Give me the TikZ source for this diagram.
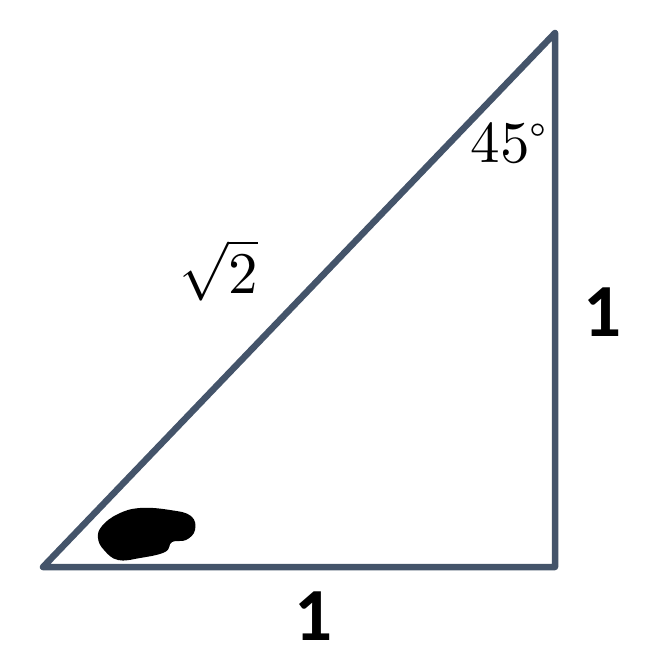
\documentclass[tikz,border=0pt]{standalone}
\usepackage{fontspec}
\usepackage{unicode-math}
\setmathfont{Latin Modern Math}
\newfontfamily\sidefont{Carlito}
\definecolor{edgeGray}{HTML}{44546A}

\def \vertAX{43}
\def \vertAY{567}
\def \vertBX{555}
\def \vertBY{567}
\def \vertCX{555}
\def \vertCY{33}

\begin{document}
\begin{tikzpicture}[x=1pt, y=-1pt,
    sideLabel/.style = {font=\sidefont\fontsize{75}{80}\selectfont\bfseries},
    mathLabel/.style = {font=\fontsize{59}{62}\selectfont}]
\useasboundingbox (0,0) rectangle (647,658);

% ---- Vertices
\coordinate (cornerA) at (\vertAX, \vertAY);
\coordinate (cornerB) at (\vertBX, \vertBY);
\coordinate (cornerC) at (\vertCX, \vertCY);

% ---- Triangle
\draw [edgeGray, line width = 6.5, line join = round, line cap = round] (cornerA) -- (cornerB) -- (cornerC) -- cycle;

% ---- Labels
\node [mathLabel] (angleLabel) at (509, 143) {$45^\circ$};
\node [mathLabel] (hypLabel) at (219, 270) {$\sqrt{2}$};
\node [sideLabel] (rightLabel) at (602, 312) {1};
\node [sideLabel] (bottomLabel) at (314, 616) {1};

% ---- Scribble
\fill [black] plot [smooth cycle, tension = 0.7] coordinates {(102,526) (118,514) (140,508) (170,510) (191,516) (195,530) (186,540) (172,542) (165,552) (140,558) (118,560) (104,550) (98,538)};
\end{tikzpicture}
\end{document}
